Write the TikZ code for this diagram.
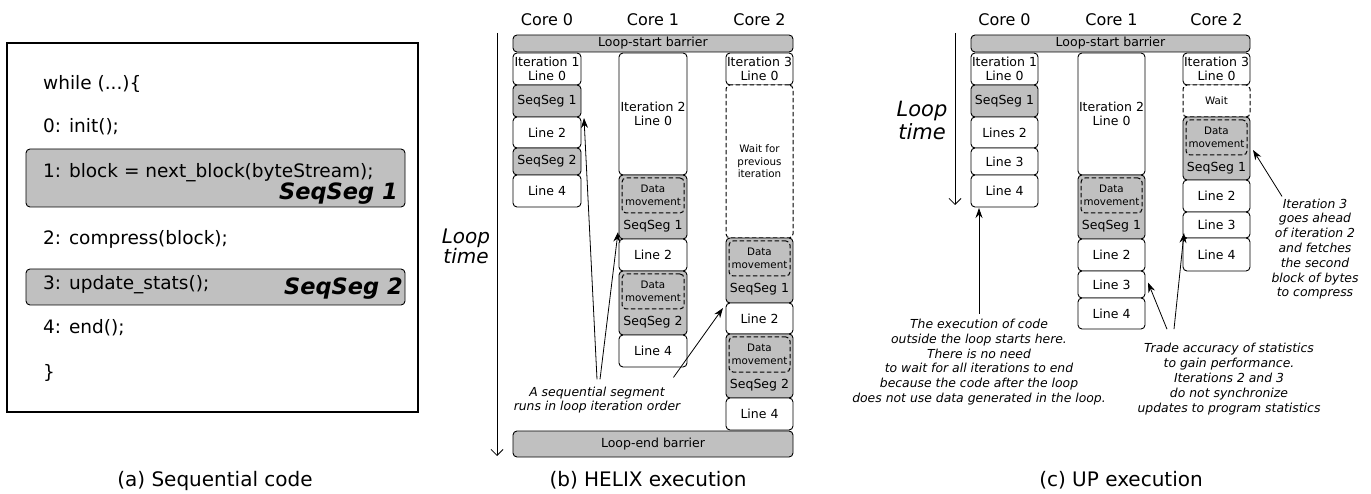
\documentclass[tikz,border=0pt]{standalone}
\usepackage{fontspec}
\setmainfont{DejaVu Sans}
\usetikzlibrary{arrows.meta}
\definecolor{seggray}{RGB}{192,192,192}
\newcommand{\boxfont}{\fontsize{12.5}{14.5}\selectfont}
\newcommand{\tinyfont}{\fontsize{10.3}{12.6}\selectfont}
\newcommand{\notefont}{\fontsize{12.4}{14.8}\selectfont\itshape}
\newcommand{\cell}[7]{\node[#2, minimum width=#5pt-#3pt, minimum height=#6pt-#4pt] (#1) at ({(#3+#5)/2},{(#4+#6)/2}) {#7}}
\newcommand{\dmove}[6]{\cell{#1}{seg}{#2}{#3}{#4}{#5}{};
	\node[moveb, minimum width=#4pt-#2pt-6pt, minimum height=35pt] (#1m) at ({(#2+#4)/2},{#3+20.5}) {Data\\movement};
	\node[lbl] (#1t) at ({(#2+#4)/2},{#3+51}) {#6}}
\newcommand{\codeline}[3]{\node[code, anchor=base west] (#1) at (43,#2) {#3}}
\tikzset{
	cellb/.style={draw, rounded corners=4pt, line width=0.9pt, fill=white, inner sep=0pt, outer sep=0pt, align=center, font=\boxfont},
	seg/.style={cellb, fill=seggray},
	waitb/.style={cellb, dash pattern=on 4.5pt off 2.5pt, line width=1pt, font=\tinyfont},
	moveb/.style={draw, dash pattern=on 4.5pt off 2.5pt, rounded corners=4pt, line width=1pt, inner sep=0pt, align=center, font=\tinyfont},
	lbl/.style={inner sep=0pt, font=\boxfont},
	corel/.style={inner sep=0pt, font=\fontsize{16}{19}\selectfont},
	code/.style={inner sep=0pt, font=\fontsize{18.5}{22}\selectfont},
	seqlbl/.style={inner sep=0pt, font=\fontsize{22.5}{26}\selectfont\bfseries\itshape},
	caption/.style={inner sep=0pt, font=\fontsize{20}{24}\selectfont},
	looplbl/.style={inner sep=0pt, align=center, font=\fontsize{20}{20}\selectfont\itshape},
	notetext/.style={inner sep=0pt, align=center, font=\notefont},
	note/.style={-{Stealth[length=10pt,width=7pt]}, line width=0.8pt},
	timeax/.style={-{Straight Barb[length=6pt,width=12pt]}, line width=0.8pt}
}

\begin{document}
\begin{tikzpicture}[x=1pt, y=-1pt]
	\useasboundingbox (0,0) rectangle (1371,494);
%(a) Sequential code
	\node[draw, line width=2.8pt, minimum width=411pt, minimum height=369pt, inner sep=0pt] (codebox) at (212.5,227.5) {};
	\cell{cseg1}{seg}{26}{149}{405}{207}{};
	\cell{cseg2}{seg}{26}{269}{405}{305}{};
	\codeline{cl0}{90}{while (...)\{};
	\codeline{cl1}{133}{0: init();};
	\codeline{cl2}{178}{1: block = next\_block(byteStream);};
	\codeline{cl3}{245}{2: compress(block);};
	\codeline{cl4}{290}{3: update\_stats();};
	\codeline{cl5}{334}{4: end();};
	\codeline{cl6}{378}{\}};
	\node[seqlbl, anchor=base east] (cs1) at (398,200) {SeqSeg 1};
	\node[seqlbl, anchor=base east] (cs2) at (403,295) {SeqSeg 2};
	\node[caption, anchor=base] (capa) at (215,486) {(a) Sequential code};
%(b) HELIX execution
	\node[corel, anchor=base] (hc0) at (547,26) {Core 0};
	\node[corel, anchor=base] (hc1) at (653,26) {Core 1};
	\node[corel, anchor=base] (hc2) at (759.5,26) {Core 2};
	\coordinate (ht0) at (497,33);
	\coordinate (ht1) at (497,456);
	\draw[timeax] (ht0) -- (ht1);
	\node[looplbl] (hlt) at (466,246) {Loop\\time};
	\cell{hstart}{seg}{513}{35}{793}{52}{Loop-start barrier};
	%core 0
	\cell{h0a}{cellb}{513}{53}{581}{85}{Iteration 1\\Line 0};
	\cell{h0b}{seg}{513}{85}{581}{117}{SeqSeg 1};
	\cell{h0c}{cellb}{513}{117}{581}{148}{Line 2};
	\cell{h0d}{seg}{513}{148}{581}{175}{SeqSeg 2};
	\cell{h0e}{cellb}{513}{175}{581}{207}{Line 4};
	%core 1
	\cell{h1a}{cellb}{619}{53}{687}{175}{Iteration 2\\Line 0};
	\dmove{h1b}{619}{175}{687}{239}{SeqSeg 1};
	\cell{h1c}{cellb}{619}{239}{687}{271}{Line 2};
	\dmove{h1d}{619}{271}{687}{335}{SeqSeg 2};
	\cell{h1e}{cellb}{619}{335}{687}{367}{Line 4};
	%core 2
	\cell{h2a}{cellb}{726}{53}{793}{85}{Iteration 3\\Line 0};
	\cell{h2b}{waitb}{726}{85}{793}{238}{Wait for\\previous\\iteration};
	\dmove{h2c}{726}{238}{793}{303}{SeqSeg 1};
	\cell{h2d}{cellb}{726}{303}{793}{334}{Line 2};
	\dmove{h2e}{726}{334}{793}{398}{SeqSeg 2};
	\cell{h2f}{cellb}{726}{398}{793}{430}{Line 4};
	\cell{hend}{seg}{513}{431}{793}{457}{Loop-end barrier};
	%notes
	\node[notetext] (hnote) at (597,400) {A sequential segment\\runs in loop iteration order};
	\draw[note] ([yshift=7pt]hnote.north) -- ([xshift=3pt,yshift=-1pt]h0b.south east);
	\draw[note] ([xshift=3pt,yshift=7pt]hnote.north) -- ([xshift=-1pt,yshift=7pt]h1b.south west);
	\draw[note] ([xshift=-7pt,yshift=9pt]hnote.north east) -- ([xshift=-3pt,yshift=-5pt]h2c.south west);
	\node[caption, anchor=base] (capb) at (648,486) {(b) HELIX execution};
%(c) UP execution
	\node[corel, anchor=base] (uc0) at (1004.5,26) {Core 0};
	\node[corel, anchor=base] (uc1) at (1111.5,26) {Core 1};
	\node[corel, anchor=base] (uc2) at (1216.5,26) {Core 2};
	\coordinate (ut0) at (955,33);
	\coordinate (ut1) at (955,205);
	\draw[timeax] (ut0) -- (ut1);
	\node[looplbl, font=\fontsize{21}{23}\selectfont\itshape] (ult) at (922,120) {Loop\\time};
	\cell{ustart}{seg}{971}{35}{1250}{52}{Loop-start barrier};
	%core 0
	\cell{u0a}{cellb}{971}{53}{1038}{85}{Iteration 1\\Line 0};
	\cell{u0b}{seg}{971}{85}{1038}{117}{SeqSeg 1};
	\cell{u0c}{cellb}{971}{117}{1038}{148}{Lines 2};
	\cell{u0d}{cellb}{971}{148}{1038}{175}{Line 3};
	\cell{u0e}{cellb}{971}{175}{1038}{207}{Line 4};
	%core 1
	\cell{u1a}{cellb}{1078}{53}{1145}{175}{Iteration 2\\Line 0};
	\dmove{u1b}{1078}{175}{1145}{239}{SeqSeg 1};
	\cell{u1c}{cellb}{1078}{239}{1145}{271}{Line 2};
	\cell{u1d}{cellb}{1078}{271}{1145}{298}{Line 3};
	\cell{u1e}{cellb}{1078}{298}{1145}{329}{Line 4};
	%core 2
	\cell{u2a}{cellb}{1183}{53}{1250}{85}{Iteration 3\\Line 0};
	\cell{u2b}{waitb}{1183}{85}{1250}{117}{Wait};
	\dmove{u2c}{1183}{117}{1250}{180}{SeqSeg 1};
	\cell{u2d}{cellb}{1183}{180}{1250}{212}{Line 2};
	\cell{u2e}{cellb}{1183}{212}{1250}{238}{Line 3};
	\cell{u2f}{cellb}{1183}{238}{1250}{271}{Line 4};
	%notes
	\node[notetext] (uexec) at (979,362) {The execution of code\\outside the loop starts here.\\There is no need\\to wait for all iterations to end\\because the code after the loop\\does not use data generated in the loop.};
	\draw[note] ([yshift=5pt]uexec.north) -- ([yshift=-1pt]uexec.north |- u0e.south);
	\node[notetext] (utrade) at (1229,379) {Trade accuracy of statistics\\to gain performance.\\Iterations 2 and 3\\do not synchronize\\updates to program statistics};
	\draw[note] ([xshift=-62pt,yshift=14pt]utrade.north) -- ([xshift=3pt,yshift=2pt]u1d.east);
	\draw[note] ([xshift=-55pt,yshift=14pt]utrade.north) -- ([xshift=1pt,yshift=5pt]u2e.south west);
	\node[notetext] (uahead) at (1315,249) {Iteration 3\\goes ahead\\of iteration 2\\and fetches\\the second\\block of bytes\\to compress};
	\draw[note] ([xshift=-33pt,yshift=2pt]uahead.north) -- ([xshift=3pt,yshift=-1.5pt]u2c.east);
	\node[caption, anchor=base] (capc) at (1121,486) {(c) UP execution};
\end{tikzpicture}
\end{document}
